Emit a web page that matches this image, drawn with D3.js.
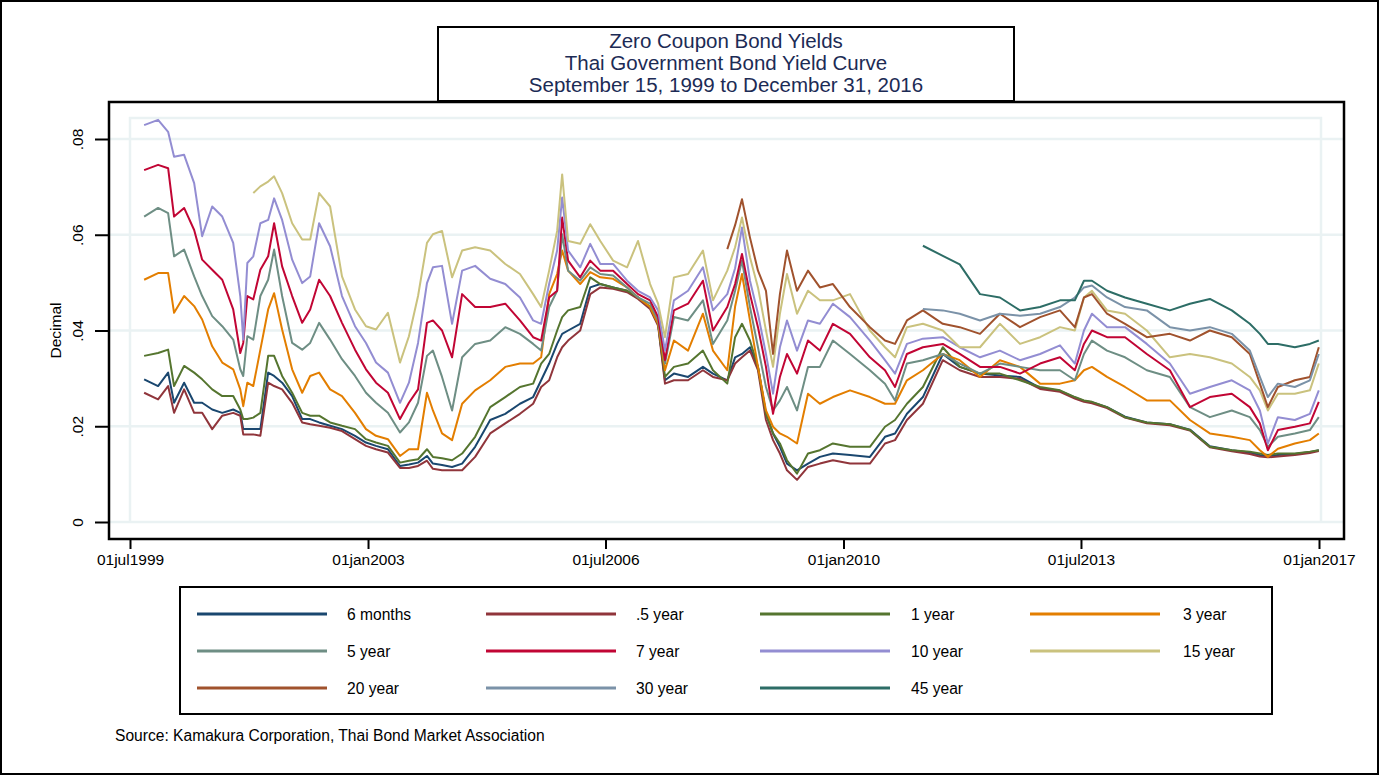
<!DOCTYPE html>
<html><head><meta charset="utf-8">
<script src="https://cdn.jsdelivr.net/npm/d3@7"></script>
<style>body{margin:0;background:#fff}svg{display:block;font-family:"Liberation Sans",Arial,sans-serif}</style>
</head><body><svg id="c" width="1380" height="776"></svg>
<script>
// Observation dates (shared grid)
const dates = ["1999-09-15","1999-11-29","2000-01-22","2000-02-23","2000-04-17","2000-06-10","2000-07-23","2000-09-15","2000-11-08","2001-01-06",
"2001-02-13","2001-03-01","2001-03-23","2001-04-24","2001-06-01","2001-07-13","2001-08-14","2001-09-26","2001-11-19","2002-01-12",
"2002-02-24","2002-04-13","2002-06-11","2002-08-14","2002-10-23","2002-12-21","2003-02-13","2003-04-18","2003-06-22","2003-08-09",
"2003-09-27","2003-11-14","2003-12-16","2004-02-03","2004-03-28","2004-05-21","2004-07-30","2004-10-19","2005-01-08","2005-03-28",
"2005-06-07","2005-07-20","2005-09-01","2005-10-14","2005-11-10","2005-12-12","2006-02-15","2006-04-10","2006-06-03","2006-08-11",
"2006-10-25","2006-12-23","2007-02-26","2007-04-10","2007-05-17","2007-07-04","2007-09-18","2007-12-07","2008-01-30","2008-04-16",
"2008-05-28","2008-07-04","2008-08-16","2008-09-28","2008-11-10","2008-12-18","2009-01-24","2009-03-03","2009-04-26","2009-06-24",
"2009-08-27","2009-11-05","2010-02-05","2010-05-23","2010-08-12","2010-10-05","2010-12-08","2011-03-04","2011-06-19","2011-09-18",
"2012-01-05","2012-04-21","2012-08-07","2012-11-23","2013-03-10","2013-05-29","2013-07-17","2013-08-29","2013-11-18","2014-02-23",
"2014-06-20","2014-10-22","2015-02-07","2015-05-25","2015-09-20","2015-12-26","2016-02-18","2016-04-01","2016-05-25","2016-08-24",
"2016-11-13","2016-12-31"];

// Yields in percent (plotted as decimals)
const yield6m = [2.98,2.84,3.12,2.49,2.91,2.49,2.49,2.35,2.28,2.35,2.28,1.94,1.94,1.94,1.94,3.12,3.05,2.91,2.63,2.15,2.15,2.08,2.01,1.94,1.80,1.66,1.59,1.52,1.17,1.20,1.24,1.38,
1.22,1.19,1.15,1.22,1.57,2.13,2.26,2.47,2.61,2.96,3.31,3.72,3.93,4.00,4.14,4.90,4.97,4.90,4.83,4.69,4.49,4.14,2.96,3.10,3.03,3.24,3.10,2.96,3.44,
3.51,3.65,3.24,2.26,1.85,1.57,1.22,1.08,1.22,1.36,1.43,1.40,1.36,1.78,1.85,2.26,2.61,3.51,3.24,3.10,3.06,3.03,
2.80,2.74,2.60,2.53,2.50,2.40,2.20,2.08,2.04,1.93,1.58,1.50,1.45,1.40,1.38,1.40,1.42,1.46,1.50];
const yieldHalf = [2.70,2.56,2.84,2.28,2.77,2.28,2.28,1.94,2.22,2.28,2.22,1.83,1.83,1.83,1.80,2.91,2.84,2.77,2.49,2.08,2.04,2.01,1.97,1.90,1.73,1.59,1.52,1.45,1.13,1.13,1.17,1.28,
1.11,1.08,1.08,1.08,1.36,1.85,2.06,2.26,2.47,2.82,2.96,3.44,3.65,3.79,4.00,4.76,4.90,4.87,4.80,4.66,4.45,4.10,2.89,2.96,2.96,3.17,3.03,2.96,3.31,
3.44,3.58,3.17,2.13,1.71,1.43,1.08,0.88,1.15,1.22,1.29,1.22,1.22,1.64,1.71,2.13,2.47,3.38,3.17,3.03,3.03,2.99,
2.78,2.72,2.58,2.51,2.48,2.38,2.18,2.06,2.02,1.91,1.56,1.48,1.42,1.37,1.35,1.37,1.40,1.44,1.48];
const yield1y = [3.47,3.53,3.60,2.84,3.26,3.12,2.98,2.77,2.63,2.63,2.35,2.15,2.15,2.18,2.28,3.47,3.47,3.05,2.70,2.28,2.22,2.22,2.08,2.01,1.94,1.73,1.66,1.59,1.24,1.28,1.31,1.52,
1.36,1.33,1.29,1.43,1.78,2.40,2.61,2.82,2.89,3.31,3.51,4.00,4.28,4.42,4.49,5.11,4.97,4.90,4.83,4.69,4.49,4.14,3.03,3.24,3.31,3.58,3.17,2.89,3.86,
4.14,3.79,3.24,2.26,1.85,1.64,1.29,1.01,1.43,1.50,1.64,1.57,1.57,1.99,2.13,2.47,2.82,3.65,3.24,3.10,3.10,2.96,
2.82,2.75,2.61,2.54,2.51,2.40,2.19,2.08,2.04,1.92,1.57,1.50,1.47,1.43,1.40,1.43,1.43,1.47,1.50];
const yield3y = [5.06,5.20,5.20,4.37,4.72,4.51,4.23,3.67,3.33,3.19,2.77,2.42,2.91,2.84,3.60,4.44,4.78,4.02,3.19,2.70,3.05,3.12,2.77,2.63,2.28,1.94,1.80,1.73,1.38,1.52,1.52,2.70,
2.33,1.85,1.71,2.47,2.75,2.96,3.24,3.31,3.31,3.44,4.76,5.18,5.67,5.25,4.97,5.22,5.11,5.08,4.90,4.69,4.49,4.14,3.17,3.79,3.58,4.35,3.58,3.17,4.50,
5.18,4.21,3.24,2.33,1.99,1.85,1.78,1.64,2.68,2.47,2.61,2.75,2.61,2.47,2.47,2.96,3.17,3.51,3.38,3.03,3.38,3.24,
2.89,2.89,2.96,3.17,3.24,3.03,2.82,2.54,2.54,2.13,1.85,1.78,1.71,1.50,1.36,1.53,1.64,1.71,1.85];
const yield5y = [6.38,6.56,6.45,5.55,5.69,5.13,4.72,4.30,4.09,3.81,3.19,3.05,3.88,3.81,4.72,5.06,5.69,4.72,3.74,3.60,3.74,4.16,3.81,3.40,3.05,2.70,2.49,2.28,1.87,2.08,2.49,3.47,
3.58,3.03,2.33,3.44,3.72,3.79,4.07,3.93,3.72,3.58,4.49,4.83,6.01,5.25,5.04,5.32,5.18,5.15,4.90,4.69,4.56,4.21,3.31,4.28,4.21,4.63,3.72,4.21,4.83,
5.46,4.49,3.65,2.82,2.33,2.54,2.82,2.33,3.24,3.24,3.79,3.51,3.17,2.89,2.54,3.31,3.38,3.51,3.31,3.10,3.31,3.24,
3.17,3.17,2.96,3.51,3.79,3.58,3.44,3.17,3.03,2.40,2.19,2.33,2.19,1.92,1.57,1.78,1.85,1.92,2.19];
const yield7y = [7.35,7.46,7.39,6.38,6.56,6.10,5.48,5.27,5.06,4.44,3.53,3.74,4.72,4.65,5.27,5.55,6.24,5.34,4.72,4.16,4.44,5.06,4.72,4.16,3.60,3.19,2.91,2.70,2.15,2.49,2.77,4.16,
4.21,4.00,3.44,4.76,4.49,4.49,4.56,4.21,3.86,3.79,4.69,4.83,6.36,5.46,5.11,5.46,5.25,5.25,4.97,4.76,4.63,4.28,3.38,4.42,4.56,5.04,4.00,4.49,4.97,
5.60,4.76,4.07,3.24,2.26,3.03,3.51,3.10,3.79,3.58,4.14,3.93,3.44,3.17,2.82,3.51,3.65,3.72,3.51,3.24,3.24,3.10,
3.31,3.44,3.17,3.72,4.00,3.86,3.86,3.51,3.17,2.40,2.61,2.68,2.40,2.06,1.50,1.92,1.99,2.06,2.51];
const yield10y = [8.29,8.40,8.15,7.63,7.67,7.08,5.97,6.59,6.38,5.83,4.72,3.81,5.41,5.55,6.24,6.31,6.76,6.31,5.48,4.99,5.13,6.24,5.76,4.72,4.09,3.74,3.33,3.12,2.49,2.91,3.74,4.99,
5.32,5.35,4.14,5.25,5.35,5.08,4.97,4.69,4.21,4.14,4.97,5.67,6.78,5.67,5.32,5.81,5.39,5.39,5.04,4.83,4.69,4.42,3.58,4.63,4.83,5.32,4.42,4.76,5.30,
6.15,5.04,4.35,3.51,2.68,3.65,4.21,3.58,4.21,4.14,4.56,4.28,3.79,3.38,3.10,3.72,3.83,3.86,3.65,3.44,3.58,3.38,
3.51,3.69,3.31,4.00,4.35,4.07,4.07,3.72,3.31,2.68,2.82,2.96,2.75,2.33,1.64,2.19,2.13,2.26,2.75];
// Longer maturities start later in the sample
const start15y = "2001-04-24";
const yield15y = [6.87,7.01,7.11,7.22,6.87,6.24,5.90,5.90,6.87,6.59,5.13,4.44,4.09,4.02,4.37,3.33,3.88,4.72,5.83,
6.01,6.08,5.11,5.67,5.74,5.67,5.39,5.18,4.76,4.49,5.25,6.08,7.26,5.87,5.81,6.22,5.87,5.46,5.32,5.87,4.97,4.56,3.86,5.11,5.18,5.67,4.63,5.25,5.74,
6.36,5.53,4.90,4.00,3.24,4.35,5.18,4.35,4.83,4.63,4.63,4.76,4.00,3.65,3.44,4.07,4.14,4.00,3.65,3.65,4.14,3.72,
3.86,4.07,4.00,4.69,4.83,4.42,4.35,4.00,3.44,3.51,3.44,3.31,3.03,2.75,2.33,2.68,2.68,2.75,3.31];
const start20y = "2008-04-16";
const yield20y = [5.70,6.20,
6.74,5.94,5.25,4.83,3.51,4.76,5.67,4.83,5.25,4.90,4.97,4.49,4.07,3.79,3.72,4.21,4.42,4.14,4.07,3.93,4.35,4.07,
4.28,4.42,4.07,4.69,4.76,4.35,4.14,3.86,3.93,3.79,4.00,3.86,3.51,2.89,2.40,2.82,2.96,3.03,3.65];
const start30y = "2011-03-04";
const yield30y = [4.45,4.42,4.35,4.21,4.35,4.31,
4.35,4.49,4.69,4.90,4.94,4.69,4.49,4.42,4.07,4.00,4.07,3.93,3.58,3.03,2.61,2.89,2.82,2.96,3.51];
const start45y = "2011-03-04";
const yield45y = [5.77,5.56,5.38,4.76,4.69,4.42,
4.49,4.63,4.63,5.04,5.04,4.83,4.69,4.56,4.42,4.56,4.66,4.42,4.14,3.93,3.72,3.72,3.65,3.72,3.79];

const seriesNames = ["6 months",".5 year","1 year","3 year","5 year","7 year","10 year","15 year","20 year","30 year","45 year"];
const seriesColors = ["#1a476f","#90353b","#55752f","#e37e00","#6e8e84","#c10534","#938dd2","#cac27e","#a0522d","#7b92a8","#2d6d66"];
const seriesValues = [yield6m,yieldHalf,yield1y,yield3y,yield5y,yield7y,yield10y,yield15y,yield20y,yield30y,yield45y];
const seriesStarts = [dates[0],dates[0],dates[0],dates[0],dates[0],dates[0],dates[0],start15y,start20y,start30y,start45y];

const yTicks = [0,0.02,0.04,0.06,0.08];
const xTicks = ["1999-07-01","2003-01-01","2006-07-01","2010-01-01","2013-07-01","2017-01-01"];
const titleLines = ["Zero Coupon Bond Yields","Thai Government Bond Yield Curve","September 15, 1999 to December 31, 2016"];
const yTitle = "Decimal";
const sourceNote = "Source: Kamakura Corporation, Thai Bond Market Association";

const parse = d3.timeParse("%Y-%m-%d");
const svg = d3.select("#c");
const W = 1380, H = 776;
const FONT = "Liberation Sans, Arial, sans-serif";

// outer frame
svg.append("rect").attr("x",1).attr("y",1).attr("width",W-3).attr("height",H-3)
  .attr("fill","#fff").attr("stroke","#000").attr("stroke-width",2);

const plot = {l:109, t:102, r:1344, b:539};
const x = d3.scaleTime().domain([parse("1999-07-01"), parse("2017-01-01")]).range([130, 1319]);
const y = d3.scaleLinear().domain([0, 0.08]).range([522, 139]);

const grid = "#eaf2f3";
// gridlines
svg.append("g").selectAll("line").data(yTicks).join("line")
  .attr("x1",plot.l).attr("x2",plot.r).attr("y1",d=>y(d)).attr("y2",d=>y(d))
  .attr("stroke",grid).attr("stroke-width",2.5);
// inner plot region box (light)
svg.append("path").attr("d",`M130,522V118H1321V522`).attr("fill","none")
  .attr("stroke",grid).attr("stroke-width",2.5);

// series lines
const line = d3.line().x(d=>x(d.date)).y(d=>y(d.v/100));
const gLines = svg.append("g");
seriesValues.forEach((vals,i)=>{
  const s = dates.indexOf(seriesStarts[i]);
  const data = vals.map((v,k)=>({date:parse(dates[s+k]), v}));
  gLines.append("path").datum(data).attr("d",line).attr("fill","none")
    .attr("stroke",seriesColors[i]).attr("stroke-width",2).attr("stroke-linejoin","round");
});

// plot frame
svg.append("rect").attr("x",plot.l).attr("y",plot.t).attr("width",plot.r-plot.l).attr("height",plot.b-plot.t)
  .attr("fill","none").attr("stroke","#000").attr("stroke-width",2.5);

// y axis
const yAxis = d3.axisLeft(y).tickValues(yTicks).tickSize(14).tickPadding(0)
  .tickFormat(d => d===0 ? "0" : d3.format(".2f")(d).replace(/^0/,""));
const ga = svg.append("g").attr("transform",`translate(${plot.l},0)`).call(yAxis);
ga.select(".domain").remove();
ga.selectAll(".tick line").attr("stroke","#000").attr("stroke-width",2);
ga.selectAll(".tick text").attr("x",0).attr("y",0).attr("dy",null)
  .attr("transform","translate(-26,0) rotate(-90)").attr("text-anchor","middle")
  .attr("font-size",15.5).attr("fill","#000").attr("font-family",FONT);
svg.append("text").attr("transform",`translate(61,${(139+522)/2})`+" rotate(-90)")
  .attr("text-anchor","middle").attr("font-size",15.5).text(yTitle);

// x axis
const fmt = d3.timeFormat("%d%b%Y");
const xAxis = d3.axisBottom(x).tickValues(xTicks.map(parse)).tickSize(10).tickPadding(5)
  .tickFormat(d => fmt(d).toLowerCase());
const gx = svg.append("g").attr("transform",`translate(0,${plot.b})`).call(xAxis);
gx.select(".domain").remove();
gx.selectAll(".tick line").attr("stroke","#000").attr("stroke-width",2);
gx.selectAll(".tick text").attr("font-size",15.5).attr("fill","#000").attr("font-family",FONT);

// title box
svg.append("rect").attr("x",438).attr("y",27).attr("width",576).attr("height",74)
  .attr("fill","#fff").attr("stroke","#000").attr("stroke-width",2);
svg.append("g").selectAll("text").data(titleLines).join("text")
  .attr("x",726).attr("y",(d,i)=>48+i*22).attr("text-anchor","middle")
  .attr("font-size",20.5).attr("fill","#1c2b55").text(d=>d);

// legend
svg.append("rect").attr("x",180).attr("y",587).attr("width",1092).attr("height",127)
  .attr("fill","#fff").attr("stroke","#000").attr("stroke-width",2);
const colLine = [197,486,760,1030], colLen = 130, colText = [347,636,911,1183], rowY = [614,651,688];
const lg = svg.append("g").selectAll("g").data(seriesNames).join("g")
  .attr("transform",(d,i)=>`translate(0,${rowY[Math.floor(i/4)]})`);
lg.append("line").attr("x1",(d,i)=>colLine[i%4]).attr("x2",(d,i)=>colLine[i%4]+colLen)
  .attr("y1",0).attr("y2",0).attr("stroke",(d,i)=>seriesColors[i]).attr("stroke-width",3);
lg.append("text").attr("x",(d,i)=>colText[i%4]).attr("y",5.5).attr("font-size",15.6).text(d=>d);

// source note
svg.append("text").attr("x",115).attr("y",740.5).attr("font-size",15.6).text(sourceNote);
</script></body></html>
